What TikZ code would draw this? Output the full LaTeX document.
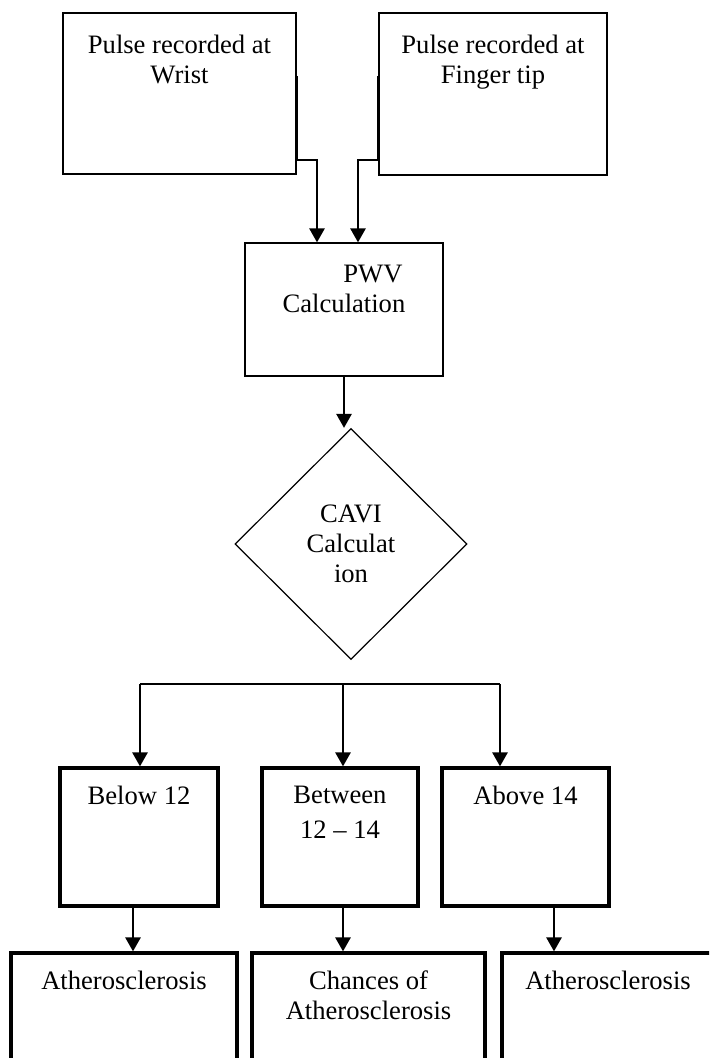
\documentclass[tikz,border=0pt]{standalone}
\usepackage{fontspec}
\setmainfont{Liberation Serif}
\usetikzlibrary{positioning,shapes.geometric,arrows.meta}

\tikzset{
  thinbox/.style={draw,line width=0.6pt,inner sep=0pt},
  thickbox/.style={draw,line width=1.6pt,inner sep=0pt},
  txt/.style={inner sep=0pt,align=center,font=\fontsize{13.3pt}{15pt}\selectfont},
  conn/.style={line width=1.3pt,-{Triangle[length=7pt,width=7.5pt]}},
  wire/.style={line width=1.3pt},
}

\begin{document}
\begin{tikzpicture}[x=0.5pt,y=-0.5pt]
      \useasboundingbox (0,0) rectangle (709,1058);
      \clip (0,0) rectangle (709,1058);
      % inputs
      \node[thinbox,minimum width=116.5pt,minimum height=80.5pt](wrist) at (179.5,93.5){};
      \node[thinbox,minimum width=114pt,minimum height=81pt](finger) at (493,94){};
      \node[txt,below=11pt of wrist.north](wristtxt){Pulse recorded at\\Wrist};
      \node[txt,below=11pt of finger.north](fingertxt){Pulse recorded at\\Finger tip};
      % calculations
      \node[thinbox,minimum width=99pt,minimum height=66.5pt](pwv) at (344,309.5){};
      \node[txt,below=11pt of pwv.north](pwvtxt){\hspace*{29pt}PWV\\Calculation};
      \node[diamond,thinbox,txt,minimum width=116pt,minimum height=115.5pt](cavi) at (351,544){CAVI\\Calculat\\ion};
      % ranges
      \node[thickbox,minimum width=79pt,minimum height=69pt](b12) at (139,837){};
      \node[thickbox,minimum width=78pt,minimum height=69pt](bt) at (340,837){};
      \node[thickbox,minimum width=83.5pt,minimum height=69pt](a14) at (525.5,837){};
      \node[txt,below=9.5pt of b12.north](b12txt){Below 12};
      \node[txt,below=9.5pt of bt.north](bttxt){Between\\[2.5pt]12 -- 14};
      \node[txt,below=9.5pt of a14.north](a14txt){Above 14};
      % results
      \node[thickbox,minimum width=113pt,minimum height=58.5pt](athL) at (124,1011.5){};
      \node[thickbox,minimum width=116.5pt,minimum height=58.5pt](chances) at (368.5,1011.5){};
      \node[thickbox,minimum width=106pt,minimum height=58.5pt](athR) at (608,1011.5){};
      \node[txt,below=9.5pt of athL.north](athLtxt){Atherosclerosis};
      \node[txt,below=9.5pt of chances.north](chancestxt){Chances of\\Atherosclerosis};
      \node[txt,below=9.5pt of athR.north](athRtxt){Atherosclerosis};
      \coordinate (branchL) at (140,684);
      \coordinate (branchM) at (343,684);
      \coordinate (branchR) at (500,684);
      \draw[conn] ([yshift=8.75pt]wrist.east) -- ([yshift=-33.25pt]wrist.east) -| ([xshift=-13.5pt]pwv.north);
      \draw[conn] ([yshift=9pt]finger.west) -- ([yshift=-33pt]finger.west) -| ([xshift=7pt]pwv.north);
      \draw[conn] (pwv.south) -- (pwv.south |- cavi.north);
      \draw[wire] (branchL) -- (branchR);
      \foreach \s/\t in {branchL/b12,branchM/bt,branchR/a14}
        \draw[conn] (\s) -- (\s |- \t.north);
      \path[conn]
        ([xshift=-3pt]b12.south) edge ([xshift=-3pt]b12.south |- athL.north)
        ([xshift=1.5pt]bt.south) edge ([xshift=1.5pt]bt.south |- chances.north)
        ([xshift=14.25pt]a14.south) edge ([xshift=14.25pt]a14.south |- athR.north)
      ;
    \end{tikzpicture}
\end{document}
